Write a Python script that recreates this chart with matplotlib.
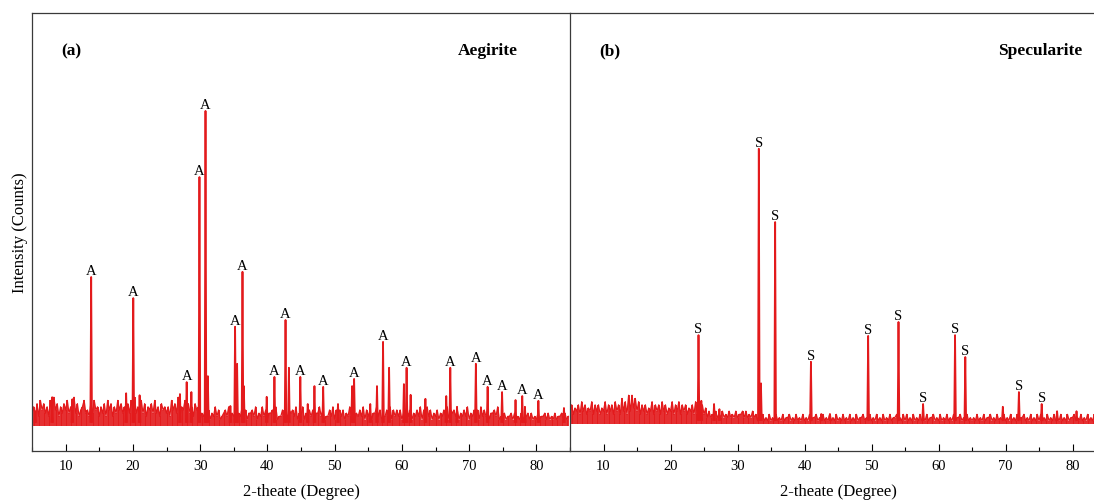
import numpy as np
import matplotlib.pyplot as plt
from matplotlib.ticker import MultipleLocator

plt.rcParams['font.family'] = ['Liberation Serif', 'DejaVu Serif']

RED = '#e31a1c'

# noise background: one digit every 0.25 deg from 5 deg, one line per 10 deg
step = 0.25
start = 5.0
unit = 8  # counts per digit

# (a) Aegirite
a_floor = 63
a_noise = [
    "4637385746384957364758463947356845374856",
    "3647385736485746374859463847365748463756",
    "4638574936584746375624353524363523453624",
    "3524363524453624363524453623353625453624",
    "3624353524463523353625453524363524353625",
    "3524463523353625353524463524353625463524",
    "3524353625453524353624353526353524453623",
    "2423342423242334242324233424232423342423",
]
a_peak_x = [13.8, 20.06, 28.0, 29.9, 30.8, 35.2, 36.3, 41.05, 42.7, 44.9,
            48.3, 52.9, 57.2, 60.7, 67.2, 71.0, 72.75, 74.9, 77.9, 80.3]
a_peak_y = [437, 384, 173, 688, 854, 312, 450, 186, 329, 186,
            161, 181, 274, 209, 209, 219, 161, 148, 138, 126]
a_minor_x = [5.5, 8.0, 11.0, 19.0, 21.0, 27.0, 28.7, 31.15, 34.5, 35.5, 36.5,
             39.9, 43.2, 46.0, 47.0, 50.5, 52.6, 55.3, 56.3, 58.1, 60.3, 61.3,
             63.5, 66.6, 68.2, 76.9, 78.3, 84.1]
a_minor_y = [100, 135, 130, 145, 140, 143, 148, 188, 113, 219, 163,
             136, 209, 118, 163, 118, 163, 118, 163, 209, 168, 141,
             131, 138, 111, 128, 111, 108]

# (b) Specularite
s_floor = 68
s_noise = [
    "4635463746354736463547364637463847394958",
    "4736463547364637463547364736463546373646",
    "3524232423242324232423342423242313231213",
    "1213121312231213121312131223121312131213",
    "1213121312131223121312131213121312231213",
    "1312131213121312231213121312131223121312",
    "1213121312231213121312131213122312131213",
    "1312131213121312131223121312131213121312",
]
s_peak_x = [24.18, 33.18, 35.62, 40.96, 49.5, 54.03, 57.7, 62.47, 64.0, 72.0, 75.4]
s_peak_y = [291, 759, 575, 224, 289, 324, 118, 291, 236, 148, 118]
s_minor_x = [24.6, 26.5, 27.3, 33.5, 42.5, 43.8, 69.6, 77.7, 80.6]
s_minor_y = [126, 118, 105, 170, 93, 93, 111, 100, 100]

fig = plt.figure(figsize=(10.94, 5.02), dpi=100)
ax_a = fig.add_axes([32 / 1094, 50 / 502, 538 / 1094, 438 / 502])
ax_b = fig.add_axes([570 / 1094, 50 / 502, 536 / 1094, 438 / 502])


def panel(ax, floor, noise, px, py, mx, my, mark, tag, name, name_x):
    digits = ''.join(noise)
    x = start + step * np.arange(len(digits))
    y = floor + unit * np.array([int(c) for c in digits])
    ax.vlines(x, floor, y, color=RED, lw=1.3)
    ax.plot(x, y, color=RED, lw=0.9)
    for p, h in zip(list(px) + list(mx), list(py) + list(my)):
        ax.plot([p - 0.12, p, p + 0.12], [floor + 10, h, floor + 10],
                color=RED, lw=1.3)
    for p, h in zip(px, py):
        ax.annotate(mark, (p, h), xytext=(0, 0), textcoords='offset points',
                    ha='center', va='bottom', fontsize=10.5)
    ax.set_xlim(5, 85)
    ax.set_ylim(0, 1100)
    ax.set_yticks([])
    ax.set_xticks([10, 20, 30, 40, 50, 60, 70, 80])
    ax.xaxis.set_minor_locator(MultipleLocator(5))
    ax.tick_params(axis='x', which='major', direction='in', length=5,
                   width=0.8, labelsize=10.5, pad=6)
    ax.tick_params(axis='x', which='minor', direction='in', length=3, width=0.8)
    ax.set_xlabel('2-theate (Degree)', fontsize=12, labelpad=8)
    for s in ax.spines.values():
        s.set_color('#3a3a3a')
        s.set_linewidth(0.9)
    ax.text(0.055, 0.915, tag, transform=ax.transAxes, fontsize=12.5,
            fontweight='bold', ha='left', va='center')
    ax.text(name_x, 0.915, name, transform=ax.transAxes, fontsize=12.5,
            fontweight='bold', ha='right', va='center')


panel(ax_a, a_floor, a_noise, a_peak_x, a_peak_y, a_minor_x, a_minor_y,
      'A', '(a)', 'Aegirite', 0.903)
panel(ax_b, s_floor, s_noise, s_peak_x, s_peak_y, s_minor_x, s_minor_y,
      'S', '(b)', 'Specularite', 0.955)

ax_a.spines['right'].set_visible(False)
ax_a.set_ylabel('Intensity (Counts)', fontsize=12, labelpad=3)

fig.savefig('out.png', dpi=100)
